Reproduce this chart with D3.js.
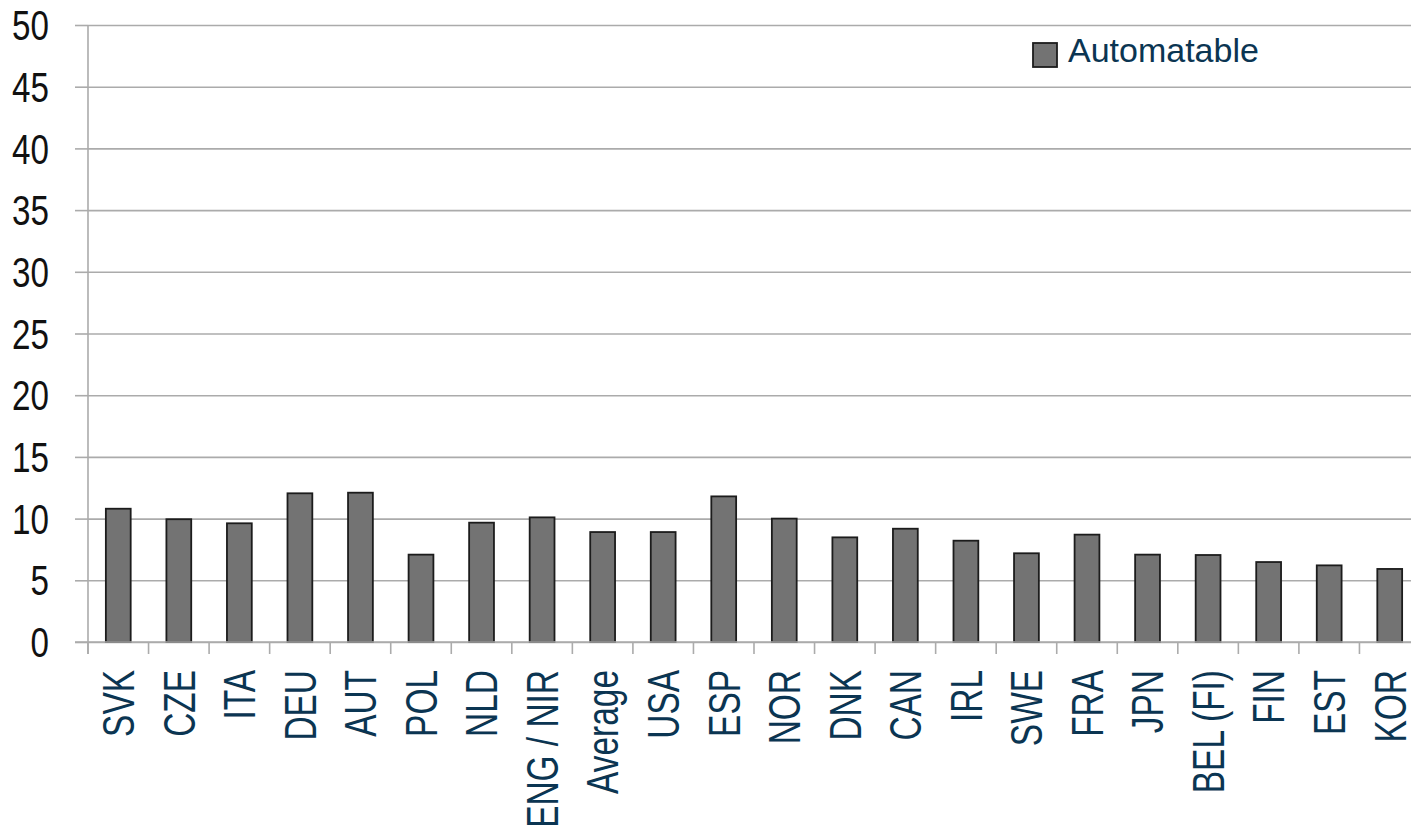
<!DOCTYPE html>
<html>
<head>
<meta charset="utf-8">
<script src="https://cdn.jsdelivr.net/npm/d3@7"></script>
<style>
  html, body { margin: 0; padding: 0; background: #fff; }
  svg { display: block; }
  text { font-family: "Liberation Sans", Arial, sans-serif; }
</style>
</head>
<body>
<svg id="chart" width="1411" height="831"></svg>
<script>
// Share of automatable tasks by country
const categories = ["SVK", "CZE", "ITA", "DEU", "AUT", "POL", "NLD", "ENG / NIR", "Average", "USA", "ESP",
  "NOR", "DNK", "CAN", "IRL", "SWE", "FRA", "JPN", "BEL (FI)", "FIN", "EST", "KOR"];
const automatable = [10.8, 9.95, 9.62, 12.05, 12.1, 7.08, 9.67, 10.1, 8.91, 8.91, 11.8,
  10.0, 8.48, 9.18, 8.21, 7.19, 8.7, 7.08, 7.05, 6.48, 6.21, 5.92];
const yTicks = [0, 5, 10, 15, 20, 25, 30, 35, 40, 45, 50];
const seriesName = "Automatable";

const svg = d3.select("#chart");
const margin = { left: 88, right: -9, top: 25, bottom: 189 };
const W = 1411, H = 831;

const x = d3.scaleBand()
  .domain(categories)
  .range([margin.left, W - margin.right])
  .paddingInner(0.59)
  .paddingOuter(0.295);

const y = d3.scaleLinear().domain([0, 50]).range([H - margin.bottom, margin.top]);

const gridColor = "#ababab";
const labelColor = "#0b3552";

// horizontal gridlines with short left tick marks
const yAxis = svg.append("g")
  .attr("transform", `translate(${margin.left},0)`)
  .call(d3.axisLeft(y).tickValues(yTicks).tickSize(13).tickSizeOuter(0).tickFormat(""));
yAxis.select(".domain").remove();
yAxis.selectAll(".tick text").remove();
yAxis.selectAll(".tick line").attr("stroke", gridColor).attr("stroke-width", 1.6);
yAxis.selectAll(".tick").append("line")
  .attr("x1", 0).attr("x2", x.range()[1] - margin.left)
  .attr("stroke", gridColor).attr("stroke-width", 1.6);

// y tick labels (narrow face emulated by horizontal scaling)
svg.append("g").selectAll("text")
  .data(yTicks)
  .join("text")
  .attr("transform", d => `translate(49,${y(d)}) scale(0.79,1)`)
  .attr("text-anchor", "end")
  .attr("dy", "0.36em")
  .attr("font-size", 42)
  .attr("fill", "#111")
  .text(d => d);

// vertical axis line
svg.append("line")
  .attr("x1", margin.left).attr("x2", margin.left)
  .attr("y1", y(50)).attr("y2", y(0) + 12)
  .attr("stroke", gridColor).attr("stroke-width", 1.6);

// bars
svg.append("g").selectAll("rect")
  .data(categories.map((c, i) => ({ c, v: automatable[i] })))
  .join("rect")
  .attr("x", d => x(d.c))
  .attr("y", d => y(d.v))
  .attr("width", x.bandwidth())
  .attr("height", d => y(0) - y(d.v))
  .attr("fill", "#737373")
  .attr("stroke", "#1c1c1c")
  .attr("stroke-width", 1.8);

// category separators below the baseline
const step = x.step();
const bounds = d3.range(categories.length + 1).map(i => margin.left + i * step);
svg.append("g").selectAll("line")
  .data(bounds)
  .join("line")
  .attr("x1", d => d).attr("x2", d => d)
  .attr("y1", y(0)).attr("y2", y(0) + 12)
  .attr("stroke", gridColor).attr("stroke-width", 1.6);

// baseline
svg.append("line")
  .attr("x1", margin.left - 13).attr("x2", x.range()[1])
  .attr("y1", y(0)).attr("y2", y(0))
  .attr("stroke", gridColor).attr("stroke-width", 1.6);

// rotated category labels
svg.append("g").selectAll("text")
  .data(categories)
  .join("text")
  .attr("font-size", 44)
  .attr("fill", labelColor)
  .attr("text-anchor", "end")
  .attr("transform", d => `translate(${x(d) + x.bandwidth() / 2},${y(0) + 28}) rotate(-90) scale(0.76,1)`)
  .attr("dy", "0.36em")
  .text(d => d);

// legend
const legend = svg.append("g").attr("transform", "translate(1033,43)");
legend.append("rect")
  .attr("width", 24).attr("height", 24)
  .attr("fill", "#737373").attr("stroke", "#1c1c1c").attr("stroke-width", 1.8);
legend.append("text")
  .attr("x", 35).attr("y", 19)
  .attr("font-size", 34)
  .attr("fill", labelColor)
  .text(seriesName);
</script>
</body>
</html>
